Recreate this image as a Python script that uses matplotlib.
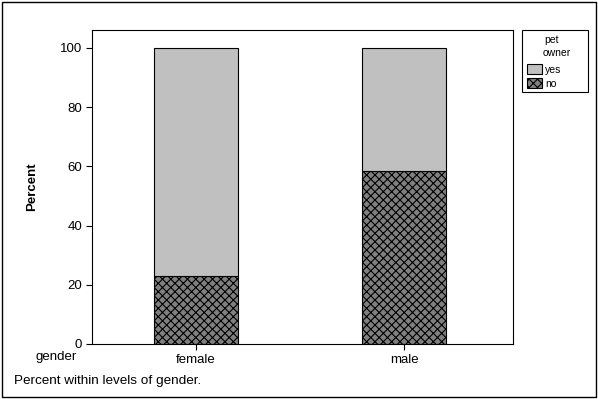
import matplotlib.pyplot as plt
from matplotlib.patches import Rectangle, Patch

plt.rcParams['font.family'] = ['Liberation Sans', 'DejaVu Sans']
plt.rcParams['hatch.linewidth'] = 0.8

genders = ['female', 'male']
pct_no = [23.0, 58.4]
pct_yes = [77.0, 41.6]
yticks = [0, 20, 40, 60, 80, 100]

fig = plt.figure(figsize=(5.98, 3.99), dpi=100)
ax = fig.add_axes([92 / 598, 1 - 344 / 399, 421 / 598, 314 / 399])

x = list(range(len(genders)))
ax.bar(x, pct_no, width=0.40, color='#808080', edgecolor='black',
       hatch='xxxx', linewidth=0.8)
ax.bar(x, pct_yes, bottom=pct_no, width=0.40, color='#c0c0c0',
       edgecolor='black', linewidth=0.8)

ax.set_xlim(-0.5, 1.524)
ax.set_ylim(0, 106)
ax.set_yticks(yticks)
ax.set_xticks(x)
ax.set_xticklabels(genders)
ax.tick_params(axis='both', labelsize=9.5, length=4, width=0.8,
               direction='out', pad=3)
ax.set_ylabel('Percent', fontsize=9.5, fontweight='bold')
ax.yaxis.set_label_coords(-0.128, 0.5)
for s in ax.spines.values():
    s.set_linewidth(0.8)

fig.text(36 / 598, 1 - 357 / 399, 'gender', fontsize=9.5, va='center')
fig.text(14 / 598, 1 - 381 / 399, 'Percent within levels of gender.',
         fontsize=9.7, va='center')

# legend box
fig.patches.append(Rectangle((522 / 598, 1 - 92 / 399), 66 / 598, 62 / 399,
                             transform=fig.transFigure, fill=False,
                             edgecolor='black', linewidth=0.8))
handles = [Patch(facecolor='#c0c0c0', edgecolor='black', linewidth=0.8),
           Patch(facecolor='#808080', edgecolor='black', hatch='xxxx', linewidth=0.8)]
leg = fig.legend(handles, ['yes', 'no'], loc='upper left',
                 bbox_to_anchor=(520 / 598, 1 - 57 / 399),
                 fontsize=7.5, frameon=False, borderpad=0.2,
                 handlelength=1.4, handleheight=1.1, handletextpad=0.3,
                 labelspacing=0.35)
fig.text(544 / 598, 1 - 40 / 399, 'pet', fontsize=7.5, va='center')
fig.text(543 / 598, 1 - 53 / 399, 'owner', fontsize=7.5, va='center')

# outer border
fig.patches.append(Rectangle((2 / 598, 2 / 399), 594 / 598, 395 / 399,
                             transform=fig.transFigure, fill=False,
                             edgecolor='black', linewidth=1))

fig.savefig('out.png', dpi=100)
